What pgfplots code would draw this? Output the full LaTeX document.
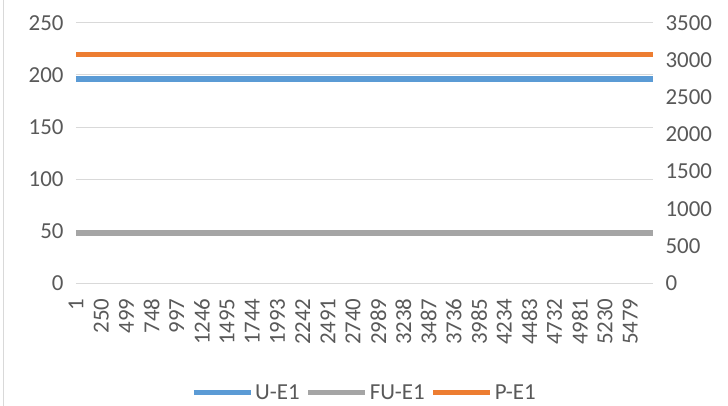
\documentclass[border=0pt]{standalone}
\usepackage{fontspec}
\setmainfont{Carlito}
\usepackage{pgfplots}
\pgfplotsset{compat=1.18}
\definecolor{cblue}{HTML}{5B9BD5}
\definecolor{corange}{HTML}{ED7D31}
\definecolor{cgray}{HTML}{A5A5A5}
\definecolor{ctext}{HTML}{595959}
\definecolor{cgrid}{HTML}{D9D9D9}
\begin{document}
\begin{tikzpicture}
\path[use as bounding box] (-76bp,-123bp) rectangle (652bp,283bp);
\draw[cgrid, line width=1bp] (-72bp,-123bp) -- (-72bp,283bp);
\begin{axis}[
  at={(0,0)}, anchor=south west,
  scale only axis, width=577bp, height=260bp,
  xmin=1, xmax=5705, ymin=0, ymax=250,
  xtick={1,250,...,5479},
  ytick={0,50,...,250},
  axis x line*=bottom, axis y line*=left,
  axis line style={draw=none},
  x axis line style={draw=cgrid, line width=1bp},
  major tick length=0pt,
  ymajorgrids, grid style={cgrid, line width=1bp},
  /pgf/number format/assume math mode=true,
  /pgf/number format/1000 sep={},
  tick label style={font=\fontsize{23}{25}\selectfont, text=ctext},
  xticklabel style={yshift=-12bp, rotate=90, anchor=east},
  yticklabel style={xshift=-9bp},
  legend columns=-1,
  legend style={at={(0.5,-0.423)}, anchor=center, draw=none, fill=none,
    font=\fontsize{23}{25}\selectfont, text=ctext,
    /tikz/every even column/.append style={column sep=4bp},
    /tikz/every odd column/.append style={column sep=0bp}},
  legend image code/.code={\draw[#1, line width=5bp] (0bp,0bp) -- (57bp,0bp);},
  clip=false,
]
\addplot[cblue, line width=5.5bp, mark=none] coordinates {(1,196) (1000,196) (2000,196) (3000,196) (4000,196) (5000,196) (5705,196)};
\addlegendentry{U-E1}
\addplot[cgray, line width=5.5bp, mark=none] coordinates {(1,48) (1000,48) (2000,48) (3000,48) (4000,48) (5000,48) (5705,48)};
\addlegendentry{FU-E1}
\addlegendimage{corange}
\addlegendentry{P-E1}
\end{axis}
\begin{axis}[
  at={(0,0)}, anchor=south west,
  scale only axis, width=577bp, height=260bp,
  xmin=1, xmax=5705, ymin=0, ymax=3500,
  ytick={0,500,...,3500},
  axis y line*=right, hide x axis,
  axis line style={draw=none},
  major tick length=0pt,
  /pgf/number format/assume math mode=true,
  /pgf/number format/1000 sep={},
  tick label style={font=\fontsize{23}{25}\selectfont, text=ctext},
  yticklabel style={xshift=9bp},
]
\addplot[corange, line width=5.5bp, mark=none, forget plot] coordinates {(1,3076) (1000,3076) (2000,3076) (3000,3076) (4000,3076) (5000,3076) (5705,3076)};
\end{axis}
\end{tikzpicture}
\end{document}
